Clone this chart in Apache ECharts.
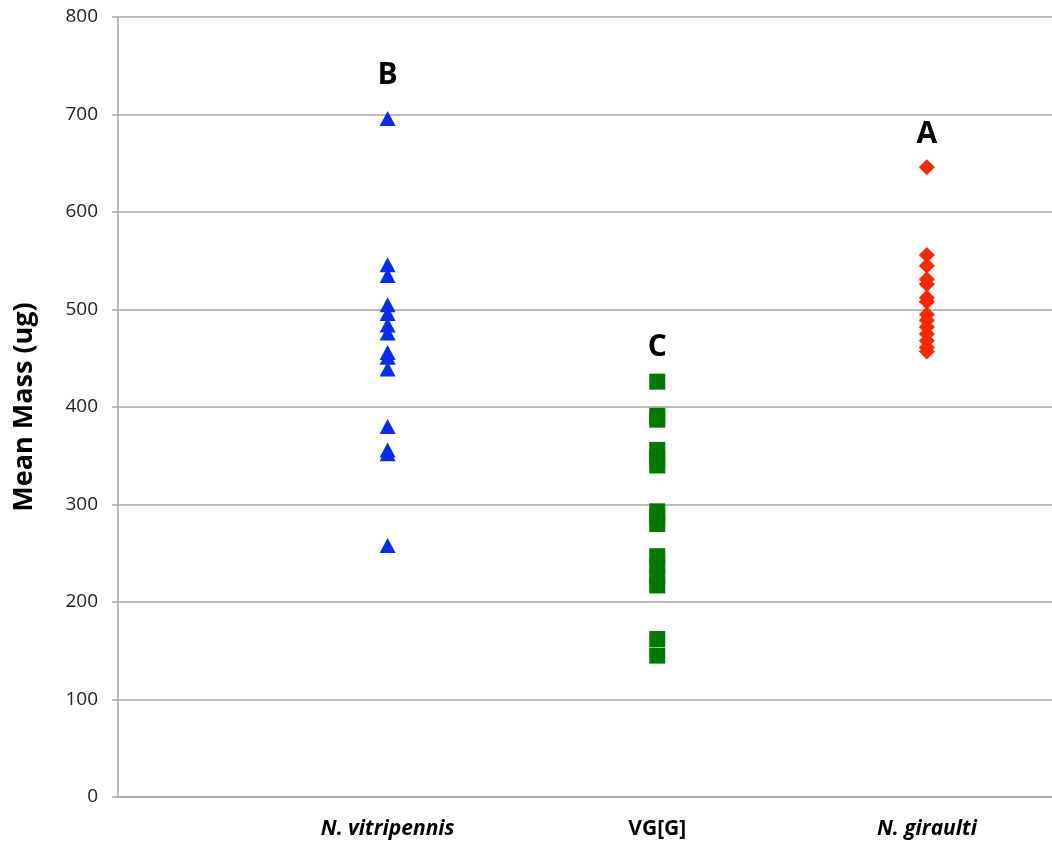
<!DOCTYPE html>
<html>
<head>
<meta charset="utf-8">
<title>Mean Mass</title>
<script src="https://cdn.jsdelivr.net/npm/echarts@6/dist/echarts.min.js"></script>
<style>
  html, body { margin: 0; padding: 0; background: #fff; }
  #chart { width: 1052px; height: 846px; }
</style>
</head>
<body>
<div id="chart"></div>
<script>
// Strain names along the x axis (positions 1, 2, 3)
var categories = ['N. vitripennis', 'VG[G]', 'N. giraulti'];
var italicCategory = [true, false, true];

// Mean mass (ug) of each replicate, per strain
var vitripennis = [696, 546, 535, 505, 496, 484, 476, 456, 451, 439, 380, 356, 352, 258];
var vgG = [426, 391, 387, 356, 348, 340, 293, 287, 280, 247, 237, 226, 217, 162, 145];
var giraulti = [646, 556, 545, 531, 526, 512, 508, 495, 489, 482, 475, 468, 461, 457];

// Significance-group letters and the height they sit at
var groupLetters = ['B', 'C', 'A'];
var letterHeights = [740, 461, 680];

// Y axis ticks
var yTicks = [0, 100, 200, 300, 400, 500, 600, 700, 800];

function points(pos, values) {
  return values.map(function (v) { return [pos, v]; });
}

var font = '"Open Sans", Lato, "Liberation Sans", sans-serif';

var chart = echarts.init(document.getElementById('chart'), null, { renderer: 'canvas' });

chart.setOption({
  animation: false,
  backgroundColor: '#ffffff',
  grid: { left: 118, right: 0, top: 17, bottom: 49, containLabel: false },
  xAxis: {
    type: 'value',
    min: 0,
    max: 3.464,
    interval: 1,
    axisLine: { show: true, lineStyle: { color: '#a6a6a6', width: 1.5 } },
    axisTick: { show: false },
    splitLine: { show: false },
    axisLabel: {
      margin: 22,
      showMaxLabel: false,
      formatter: function (v) {
        var i = Math.round(v) - 1;
        if (i < 0 || i >= categories.length || Math.abs(v - (i + 1)) > 1e-6) return '';
        return italicCategory[i] ? '{it|' + categories[i] + '}' : '{rg|' + categories[i] + '}';
      },
      rich: {
        it: { fontFamily: font, fontSize: 21, fontWeight: 'bold', fontStyle: 'italic', color: '#000' },
        rg: { fontFamily: font, fontSize: 21, fontWeight: 'bold', color: '#000' }
      }
    }
  },
  yAxis: {
    type: 'value',
    min: yTicks[0],
    max: yTicks[yTicks.length - 1],
    interval: 100,
    name: 'Mean Mass (ug)',
    nameLocation: 'middle',
    nameGap: 80,
    nameTextStyle: { fontFamily: font, fontSize: 27, fontWeight: 'bold', color: '#000' },
    axisLine: { show: true, lineStyle: { color: '#a6a6a6', width: 1.5 } },
    axisTick: { show: true, inside: false, length: 6, lineStyle: { color: '#a6a6a6', width: 1.5 } },
    splitLine: { show: true, lineStyle: { color: '#a6a6a6', width: 1.5 } },
    axisLabel: { margin: 20, fontFamily: font, fontSize: 19, color: '#222' }
  },
  series: [
    {
      name: categories[0],
      type: 'scatter',
      symbol: 'triangle',
      symbolSize: [16, 15],
      itemStyle: { color: '#0a2cf2', opacity: 1 },
      data: points(1, vitripennis)
    },
    {
      name: categories[1],
      type: 'scatter',
      symbol: 'rect',
      symbolSize: 16,
      itemStyle: { color: '#007a00', opacity: 1 },
      data: points(2, vgG)
    },
    {
      name: categories[2],
      type: 'scatter',
      symbol: 'diamond',
      symbolSize: 16,
      itemStyle: { color: '#ff2600', opacity: 1 },
      data: points(3, giraulti)
    },
    {
      name: 'groups',
      type: 'scatter',
      symbol: 'rect',
      symbolSize: 1,
      silent: true,
      itemStyle: { color: '#ffffff', opacity: 1 },
      data: groupLetters.map(function (l, i) { return { value: [i + 1, letterHeights[i]], name: l }; }),
      label: {
        show: true,
        position: 'inside',
        formatter: function (p) { return p.name; },
        fontFamily: font,
        fontSize: 30,
        fontWeight: 'bold',
        color: '#000000',
        opacity: 1,
        textBorderWidth: 0
      }
    }
  ]
});
</script>
</body>
</html>
